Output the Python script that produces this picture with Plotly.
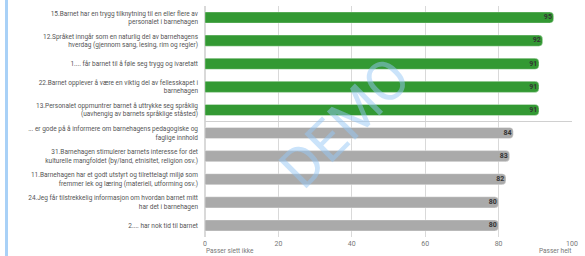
import plotly.graph_objects as go

categories = [
    "15.Barnet har en trygg tilknytning til en eller flere av<br>personalet i barnehagen",
    "12.Språket inngår som en naturlig del av barnehagens<br>hverdag (gjennom sang, lesing, rim og regler)",
    "1.... får barnet til å føle seg trygg og ivaretatt",
    "22.Barnet opplever å være en viktig del av fellesskapet i<br>barnehagen",
    "13.Personalet oppmuntrer barnet å uttrykke seg språklig<br>(uavhengig av barnets språklige ståsted)",
    "... er gode på å informere om barnehagens pedagogiske og<br>faglige innhold",
    "31.Barnehagen stimulerer barnets interesse for det<br>kulturelle mangfoldet (by/land, etnisitet, religion osv.)",
    "11.Barnehagen har et godt utstyrt og tilrettelagt miljø som<br>fremmer lek og læring (materiell, utforming osv.)",
    "24.Jeg får tilstrekkelig informasjon om hvordan barnet mitt<br>har det i barnehagen",
    "2.... har nok tid til barnet",
]
values = [95, 92, 91, 91, 91, 84, 83, 82, 80, 80]
groups = ["top", "top", "top", "top", "top", "low", "low", "low", "low", "low"]
group_colors = {"top": "#339933", "low": "#aaaaaa"}
x_ticks = [0, 20, 40, 60, 80, 100]
x_min_label = "Passer slett ikke"
x_max_label = "Passer helt"
watermark = "DEMO"

fig = go.Figure()
fig.add_trace(
    go.Bar(
        x=values,
        y=categories,
        orientation="h",
        width=0.48,
        marker=dict(
            color=[group_colors[g] for g in groups],
            cornerradius=4,
            line=dict(width=1, color="rgba(255,255,255,0.35)"),
        ),
        hoverinfo="skip",
    )
)
fig.add_trace(
    go.Scatter(
        x=values,
        y=categories,
        mode="text",
        text=[str(v) + " " for v in values],
        textposition="middle left",
        textfont=dict(family="Roboto", size=7, color="#333333", weight="bold"),
        cliponaxis=False,
        hoverinfo="skip",
    )
)

fig.update_layout(
    width=585,
    height=256,
    margin=dict(l=205, r=13, t=6, b=19),
    paper_bgcolor="white",
    plot_bgcolor="white",
    showlegend=False,
    font=dict(family="Roboto", size=7, color="#555555"),
    xaxis=dict(
        range=[0, 100],
        tickvals=x_ticks,
        ticktext=[str(t) for t in x_ticks],
        showgrid=True,
        gridcolor="#d9d9d9",
        gridwidth=1,
        zeroline=True,
        zerolinecolor="#d9d9d9",
        showline=False,
        ticks="",
        tickfont=dict(size=7, color="#777777"),
        ticklabelstandoff=1,
        fixedrange=True,
    ),
    yaxis=dict(
        autorange="reversed",
        showgrid=False,
        ticks="",
        tickfont=dict(size=6.5, color="#555555"),
        ticklabelstandoff=6,
        fixedrange=True,
    ),
    shapes=[
        dict(type="line", xref="x", yref="y", x0=0, x1=100, y0=4.5, y1=4.5,
             line=dict(color="#d0d0d0", width=1)),
        dict(type="rect", xref="paper", yref="paper",
             x0=(5 - 205) / 367, x1=(8 - 205) / 367, y0=-0.1, y1=1.05,
             fillcolor="#a9d1f7", line=dict(width=0), layer="above"),
    ],
    annotations=[
        dict(text=x_min_label, xref="x", yref="paper", x=0, y=0, xanchor="left",
             yanchor="middle", yshift=-13.5, showarrow=False, borderpad=0,
             font=dict(size=6.5, color="#777777")),
        dict(text=x_max_label, xref="x", yref="paper", x=100, y=0, xanchor="right",
             yanchor="middle", yshift=-13.5, showarrow=False, borderpad=0,
             font=dict(size=6.5, color="#777777")),
        dict(text=watermark, xref="paper", yref="paper",
             x=(345 - 205) / 367, y=(237 - 123) / 231, xanchor="center", yanchor="middle",
             textangle=-45, showarrow=False,
             font=dict(family="Roboto", size=56, color="rgba(150,200,245,0.5)")),
    ],
)

fig.write_html(
    "out.html",
    config={"displayModeBar": False},
    post_script="document.body.style.margin='0';",
)
